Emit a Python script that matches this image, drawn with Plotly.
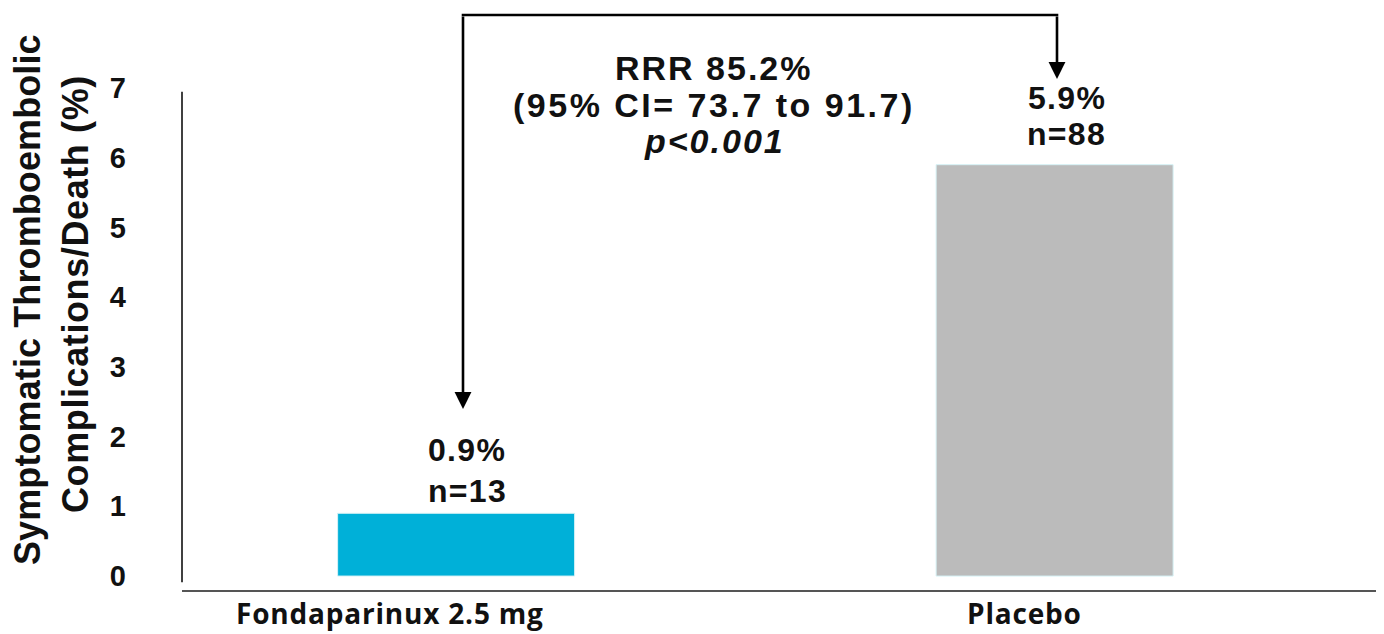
import plotly.graph_objects as go

# ---- data ----
categories = ["Fondaparinux 2.5 mg", "Placebo"]
values = [0.9, 5.9]
counts = [13, 88]
bar_colors = ["#00B0D8", "#BBBBBB"]
y_ticks = [0, 1, 2, 3, 4, 5, 6, 7]
y_title_lines = ["Symptomatic Thromboembolic", "Complications/Death (%)"]
rrr_lines = ["RRR 85.2%", "(95% CI= 73.7 to 91.7)", "<i>p<0.001</i>"]

# page is drawn with an 8px body margin -> work in page pixels and convert
OFF = 8
W, H = 1384 - OFF, 634 - OFF
PLOT_L, PLOT_R, PLOT_T, PLOT_B = 182, 1379, 88, 590  # page pixels
L, R, T, B = PLOT_L - OFF, W - (PLOT_R - OFF), PLOT_T - OFF, H - (PLOT_B - OFF)
PW, PH = W - L - R, H - T - B


def px(x):
    return (x - PLOT_L) / PW


def py(y):
    return (PLOT_B - y) / PH


ARIAL = "Liberation Sans, Arial, sans-serif"
TXT = "#111111"


def ls(text, sp):
    return f'<span style="letter-spacing:{sp}px">{text}</span>'


fig = go.Figure()
fig.add_trace(go.Bar(
    x=categories, y=values, width=0.396,
    marker=dict(color=bar_colors, line=dict(color="#d6f2f6", width=1)),
    showlegend=False, hoverinfo="skip",
))

# value labels (two lines each, positioned above the bar top)
label_dx = [11, 12]
label_dy = [[63, 22], [67, 31]]
for c, v, n, dx, dys in zip(categories, values, counts, label_dx, label_dy):
    for txt, dy in zip([f"{v}%", f"n={n}"], dys):
        fig.add_annotation(
            x=c, y=v, xref="x", yref="y", yanchor="middle", xanchor="center",
            text=ls(txt, 1.3), showarrow=False, xshift=dx, yshift=dy,
            font=dict(family=ARIAL, size=32, color=TXT, weight="bold"),
        )

# category labels
cat_shift = [-66, -30]
for c, xs in zip(categories, cat_shift):
    fig.add_annotation(
        x=c, y=py(634), xref="x", yref="paper", yanchor="bottom",
        text=ls(c, 0.8), showarrow=False, xshift=xs,
        font=dict(family="Open Sans, sans-serif", size=28, color=TXT, weight="bold"),
    )

# RRR text
for txt, yc, sp in zip(rrr_lines, [68, 105, 141], [2.0, 2.5, 2.0]):
    fig.add_annotation(
        x=px(714), y=py(yc), xref="paper", yref="paper", xanchor="center", yanchor="middle",
        text=ls(txt, sp), showarrow=False,
        font=dict(family=ARIAL, size=34, color=TXT, weight="bold"),
    )

# y title (rotated, two lines)
for txt, xc, yc, sp in zip(y_title_lines, [27, 75], [300, 294], [0.1, 0.6]):
    fig.add_annotation(
        x=px(xc), y=py(yc), xref="paper", yref="paper", xanchor="center", yanchor="middle",
        text=ls(txt, sp), textangle=-90, showarrow=False,
        font=dict(family=ARIAL, size=36, color=TXT, weight="bold"),
    )

# bracket arrows
for tipx, tipy, taily in [(463, 409, 15), (1057, 79, 15)]:
    fig.add_annotation(
        x=px(tipx), y=py(tipy), xref="paper", yref="paper",
        ax=0, ay=-(tipy - taily), text="", showarrow=True,
        arrowhead=2, arrowsize=1.3, arrowwidth=2.6, arrowcolor="#000",
    )
fig.add_shape(type="line", xref="paper", yref="paper",
              x0=px(461.7), x1=px(1058.3), y0=py(15), y1=py(15),
              line=dict(color="#000", width=2.6))

# y axis line
fig.add_shape(type="line", xref="paper", yref="y", x0=0, x1=0, y0=-0.09, y1=6.945,
              line=dict(color="#000", width=1.5))

fig.update_layout(
    width=W, height=H, margin=dict(l=L, r=R, t=T, b=B, pad=0),
    plot_bgcolor="white", paper_bgcolor="white",
    xaxis=dict(range=[-0.458, 1.542], showticklabels=False, showgrid=False,
               zeroline=False, showline=True, linecolor="#555", linewidth=2,
               ticks=""),
    yaxis=dict(range=[-0.2, 7], tickvals=y_ticks, showgrid=False, zeroline=False,
               showline=False, ticks="", ticklabelstandoff=55,
               tickfont=dict(family=ARIAL, size=29, color=TXT, weight="bold")),
)

fig.write_html("out.html")
